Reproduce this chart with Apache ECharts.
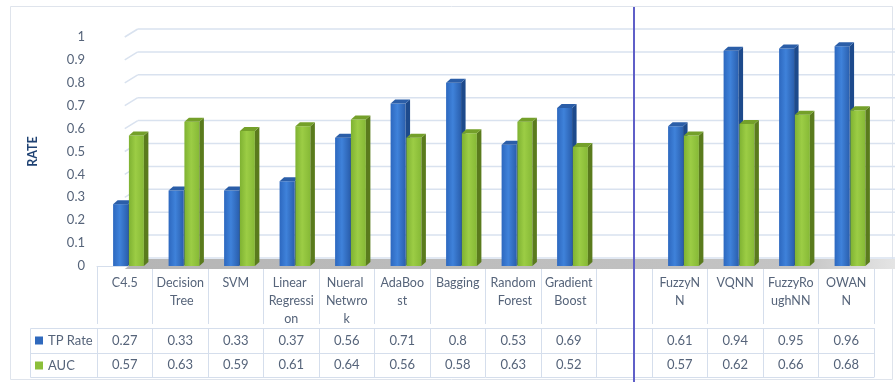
<!DOCTYPE html>
<html>
<head>
<meta charset="utf-8">
<script src="https://cdn.jsdelivr.net/npm/echarts@6/dist/echarts.min.js"></script>
<style>
  html, body { margin: 0; padding: 0; background: #ffffff; }
  #chart { width: 895px; height: 382px; }
</style>
</head>
<body>
<div id="chart"></div>
<script>
// Classifier comparison: TP rate and AUC per method, with a data table underneath.
const categories = ['C4.5', 'Decision Tree', 'SVM', 'Linear Regression', 'Nueral Netwrok',
  'AdaBoost', 'Bagging', 'Random Forest', 'Gradient Boost', '',
  'FuzzyNN', 'VQNN', 'FuzzyRoughNN', 'OWANN'];
const tpRate = [0.27, 0.33, 0.33, 0.37, 0.56, 0.71, 0.8, 0.53, 0.69, null, 0.61, 0.94, 0.95, 0.96];
const auc = [0.57, 0.63, 0.59, 0.61, 0.64, 0.56, 0.58, 0.63, 0.52, null, 0.57, 0.62, 0.66, 0.68];
const yTicks = [0, 0.1, 0.2, 0.3, 0.4, 0.5, 0.6, 0.7, 0.8, 0.9, 1];

const FONT = 'Lato';
const TEXT = '#56647a';
const TABLE_LINE = '#d5deec';
const GRID_LINE = '#d9e2ef';
const DX = 4.5, DY = 4;          // depth offset of the 3D column faces
const WALL_DX = 13, WALL_DY = 8; // depth offset of the back wall

const chart = echarts.init(document.getElementById('chart'), null, { renderer: 'canvas' });

function barSeries(name, values, startFrac, colors) {
  return {
    name: name,
    type: 'custom',
    xAxisIndex: 0, yAxisIndex: 0,
    itemStyle: { color: colors.legend },
    z: 5,
    data: values.map((v, i) => v == null ? null : [i, v]).filter(d => d),
    encode: { x: 0, y: 1 },
    renderItem: function (params, api) {
      const idx = api.value(0), v = api.value(1);
      const base = api.coord([idx, 0]);
      const top = api.coord([idx, v]);
      const band = api.size([1, 0])[0];
      const x0 = base[0] - band / 2 + band * startFrac;
      const w = band * 0.27;
      const yT = top[1], yB = base[1];
      return {
        type: 'group',
        children: [
          {
            type: 'rect',
            shape: { x: x0, y: yT, width: w, height: yB - yT },
            style: {
              fill: new echarts.graphic.LinearGradient(0, 0, 1, 0, [
                { offset: 0, color: colors.f0 },
                { offset: 0.45, color: colors.f1 },
                { offset: 1, color: colors.f2 }
              ])
            }
          },
          {
            type: 'polygon',
            shape: { points: [[x0 + w, yT], [x0 + w + DX, yT - DY], [x0 + w + DX, yB - DY], [x0 + w, yB]] },
            style: { fill: colors.side }
          },
          {
            type: 'polygon',
            shape: { points: [[x0, yT], [x0 + DX, yT - DY], [x0 + w + DX, yT - DY], [x0 + w, yT]] },
            style: { fill: colors.top }
          }
        ]
      };
    }
  };
}

const option = {
  animation: false,
  textStyle: { fontFamily: FONT },
  grid: { left: 97, right: 21, top: 37, bottom: 116, containLabel: false },
  legend: {
    data: ['TP Rate', 'AUC'],
    orient: 'vertical',
    left: 35, top: 332,
    padding: 0,
    icon: 'rect',
    itemWidth: 8, itemHeight: 8,
    itemGap: 8,
    selectedMode: false,
    textStyle: { color: TEXT, fontSize: 13, fontFamily: FONT, lineHeight: 17 }
  },
  xAxis: [
    {
      type: 'category', data: categories, position: 'bottom', offset: 4,
      axisLine: { show: true, lineStyle: { color: TABLE_LINE } },
      axisTick: { show: true, length: 58, interval: 0, lineStyle: { color: TABLE_LINE } },
      axisLabel: {
        interval: 0, margin: 4, color: TEXT, fontSize: 12.5, fontFamily: FONT, lineHeight: 18,
        width: 48, overflow: 'break'
      }
    },
    {
      type: 'category', data: categories, position: 'bottom', offset: 62,
      axisLine: { show: true, lineStyle: { color: TABLE_LINE } },
      axisTick: { show: true, length: 25, interval: 0, lineStyle: { color: TABLE_LINE } },
      axisLabel: {
        interval: 0, margin: 4, color: TEXT, fontSize: 13, fontFamily: FONT, lineHeight: 18,
        formatter: (val, i) => tpRate[i] == null ? '' : String(tpRate[i])
      }
    },
    {
      type: 'category', data: categories, position: 'bottom', offset: 87,
      axisLine: { show: true, lineStyle: { color: TABLE_LINE } },
      axisTick: { show: true, length: 24, interval: 0, lineStyle: { color: TABLE_LINE } },
      axisLabel: {
        interval: 0, margin: 3, color: TEXT, fontSize: 13, fontFamily: FONT, lineHeight: 18,
        formatter: (val, i) => auc[i] == null ? '' : String(auc[i])
      }
    },
    {
      type: 'category', data: categories, position: 'bottom', offset: 111,
      axisLine: { show: true, lineStyle: { color: TABLE_LINE } },
      axisTick: { show: false }, axisLabel: { show: false }
    }
  ],
  yAxis: [
    {
      type: 'value', min: 0, max: 1, interval: 0.1,
      name: 'RATE', nameLocation: 'middle', nameGap: 58, nameRotate: 90,
      nameTextStyle: { color: '#1f4273', fontWeight: 'bold', fontSize: 12.5, fontFamily: FONT },
      axisLine: { show: false }, axisTick: { show: false },
      splitLine: { show: false },
      axisLabel: { color: TEXT, fontSize: 13, fontFamily: FONT, margin: 12 }
    }
  ],
  series: [
    {
      // floor and back/side wall gridlines
      name: 'wall', type: 'custom', xAxisIndex: 0, yAxisIndex: 0, silent: true, z: 1,
      clip: false,
      data: yTicks.map(t => [0, t]),
      encode: { x: 0, y: 1 },
      renderItem: function (params, api) {
        const t = api.value(1);
        const left = api.coord([-0.5, t]);
        const right = api.coord([categories.length - 0.5, t]);
        const children = [
          { type: 'line', shape: { x1: left[0], y1: left[1], x2: left[0] + WALL_DX, y2: left[1] - WALL_DY },
            style: { stroke: GRID_LINE, lineWidth: 1.5 } },
          { type: 'line', shape: { x1: left[0] + WALL_DX, y1: left[1] - WALL_DY, x2: right[0] + 18, y2: left[1] - WALL_DY },
            style: { stroke: GRID_LINE, lineWidth: 1.5 } }
        ];
        if (t === 0) {
          children.push({
            type: 'polygon',
            shape: { points: [[left[0], left[1] + 3], [right[0], right[1] + 3],
              [right[0] + 16, right[1] - 7], [left[0] + WALL_DX, left[1] - 7]] },
            style: {
              fill: new echarts.graphic.LinearGradient(0, 0, 1, 0, [
                { offset: 0, color: '#b5b5b5' },
                { offset: 0.85, color: '#c4c4c4' },
                { offset: 1, color: '#ececec' }
              ])
            }
          });
        }
        return { type: 'group', children: children };
      }
    },
    barSeries('TP Rate', tpRate, 0.29, {
      legend: '#2f69bd', f0: '#2d68bf', f1: '#3f82da', f2: '#2a5fae', side: '#1d4a8c', top: '#2b5ea8'
    }),
    barSeries('AUC', auc, 0.575, {
      legend: '#8cbf3a', f0: '#7fb232', f1: '#9ccd45', f2: '#86b936', side: '#5a7b1d', top: '#74a02a'
    })
  ],
  graphic: [
    { type: 'rect', silent: true, z: -10,
      shape: { x: 10.5, y: 6.5, width: 882, height: 373 },
      style: { fill: 'none', stroke: '#dfe4ec', lineWidth: 1 } },
    // table header column borders
    { type: 'line', silent: true, shape: { x1: 30.5, y1: 328.5, x2: 97, y2: 328.5 }, style: { stroke: TABLE_LINE } },
    { type: 'line', silent: true, shape: { x1: 30.5, y1: 353.5, x2: 97, y2: 353.5 }, style: { stroke: TABLE_LINE } },
    { type: 'line', silent: true, shape: { x1: 30.5, y1: 377.5, x2: 97, y2: 377.5 }, style: { stroke: TABLE_LINE } },
    { type: 'line', silent: true, shape: { x1: 30.5, y1: 328.5, x2: 30.5, y2: 377.5 }, style: { stroke: TABLE_LINE } },
    // separator between the reference methods and the fuzzy / neural methods
    { type: 'line', silent: true, z: 100, shape: { x1: 634, y1: 7, x2: 634, y2: 382 },
      style: { stroke: '#5f5fc8', lineWidth: 2 } }
  ]
};

chart.setOption(option);
</script>
</body>
</html>
